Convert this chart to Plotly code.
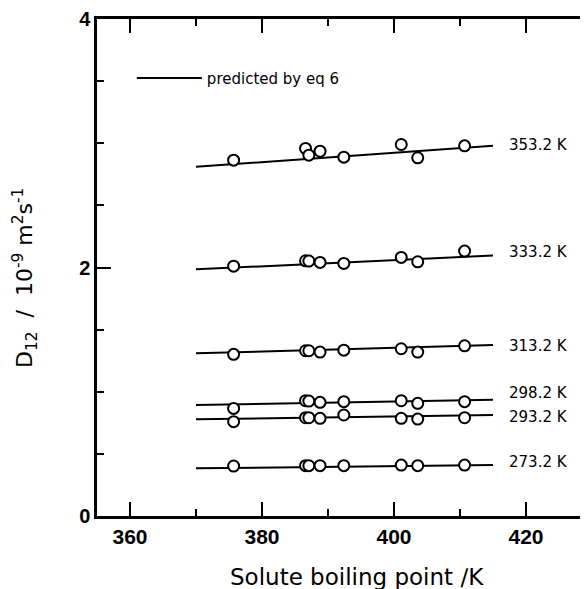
import plotly.graph_objects as go

# Solute boiling points (K)
boiling_points = [375.7, 386.6, 387.1, 388.8, 392.4, 401.1, 403.6, 410.7]

# Measured D12 (10^-9 m^2 s^-1) at each temperature
temps = ["353.2 K", "333.2 K", "313.2 K", "298.2 K", "293.2 K", "273.2 K"]
d_353 = [2.864, 2.958, 2.904, 2.936, 2.888, 2.990, 2.883, 2.979]
d_333 = [2.011, 2.054, 2.052, 2.041, 2.033, 2.081, 2.046, 2.132]
d_313 = [1.301, 1.330, 1.330, 1.319, 1.335, 1.346, 1.319, 1.370]
d_298 = [0.866, 0.928, 0.925, 0.915, 0.920, 0.928, 0.907, 0.920]
d_293 = [0.759, 0.791, 0.791, 0.786, 0.813, 0.786, 0.780, 0.791]
d_273 = [0.402, 0.405, 0.405, 0.405, 0.405, 0.410, 0.405, 0.410]
measured = [d_353, d_333, d_313, d_298, d_293, d_273]

# Predicted lines (eq 6): endpoints
pred_x = [370, 415]
pred_353 = [2.81, 2.98]
pred_333 = [1.985, 2.097]
pred_313 = [1.309, 1.376]
pred_298 = [0.893, 0.935]
pred_293 = [0.778, 0.813]
pred_273 = [0.384, 0.410]
predicted = [pred_353, pred_333, pred_313, pred_298, pred_293, pred_273]

# Label positions for temperature labels
label_x = 417.2
label_y = [2.985, 2.124, 1.37, 0.987, 0.799, 0.437]

x_tickvals = [360, 380, 400, 420]
x_ticktext = ["360", "380", "400", "420"]
y_tickvals = [0, 2, 4]
y_ticktext = ["0", "2", "4"]
y_unlabeled_major = [1, 3]
y_all_major = [0, 1, 2, 3, 4]

x_title = "Solute boiling point ∕K"
y_title = "D<sub>12</sub>\u00a0\u00a0∕\u00a0\u00a010<sup>-9</sup>\u00a0m<sup>2</sup>s<sup>-1</sup>"

fig = go.Figure()

for i, pred in enumerate(predicted):
    fig.add_trace(go.Scatter(
        x=pred_x, y=pred, mode="lines",
        line=dict(color="black", width=2),
        name="predicted by eq 6", showlegend=(i == 0),
    ))
for meas in measured:
    fig.add_trace(go.Scatter(
        x=boiling_points, y=meas, mode="markers",
        marker=dict(symbol="circle", size=11, color="white",
                    line=dict(color="black", width=2)),
        showlegend=False,
    ))

for t, ly in zip(temps, label_y):
    fig.add_annotation(x=label_x, y=ly, text=t, showarrow=False,
                       xanchor="left", yanchor="middle",
                       font=dict(family="DejaVu Sans", size=15, color="black"))

# Axis titles as annotations (positioned like the reference)
fig.add_annotation(xref="paper", yref="paper", x=0.5295, y=-0.1227,
                   text=x_title, showarrow=False, xanchor="center", yanchor="middle",
                   font=dict(family="DejaVu Sans", size=23, color="black"))
fig.add_annotation(xref="paper", yref="paper", x=-0.1466, y=0.479,
                   text=y_title, showarrow=False, textangle=-90,
                   xanchor="center", yanchor="middle",
                   font=dict(family="DejaVu Sans", size=22, color="black"))

x_tick_font = dict(family="Liberation Sans", size=21, color="black", weight="bold")
y_tick_font = dict(family="Liberation Sans", size=20, color="black", weight="bold")
tick_style = dict(ticks="inside", tickwidth=2, tickcolor="black")

fig.update_layout(
    width=580, height=581,
    margin=dict(l=89, r=0, t=11, b=73),
    plot_bgcolor="white", paper_bgcolor="white",
    showlegend=True,
    legend=dict(x=0.071, y=0.881, xanchor="left", yanchor="middle",
                bgcolor="rgba(0,0,0,0)", itemwidth=65,
                font=dict(family="DejaVu Sans", size=15, color="black")),
    xaxis=dict(
        range=[355, 429.4], showgrid=False, zeroline=False,
        showline=True, linecolor="black", linewidth=2.5, mirror="ticks",
        ticklen=14, **tick_style, ticklabeloverflow="allow",
        tickvals=x_tickvals, ticktext=x_ticktext, tickfont=x_tick_font,
        minor=dict(ticklen=7, dtick=10, tick0=360, **tick_style),
    ),
    yaxis=dict(
        range=[0, 4], showgrid=False, zeroline=False,
        showline=True, linecolor="black", linewidth=2.5,
        ticklen=14, **tick_style, ticklabeloverflow="allow",
        tickvals=y_tickvals, ticktext=y_ticktext, tickfont=y_tick_font,
        minor=dict(ticklen=7, dtick=0.5, tick0=0, **tick_style),
    ),
    yaxis2=dict(
        range=[0, 4], overlaying="y", side="right", anchor="x",
        showgrid=False, zeroline=False, showline=False,
        ticklen=14, **tick_style,
        tickvals=y_all_major, showticklabels=False,
        minor=dict(ticklen=7, dtick=0.5, tick0=0, **tick_style),
    ),
    yaxis3=dict(
        range=[0, 4], overlaying="y", side="left", anchor="x",
        showgrid=False, zeroline=False, showline=False,
        ticklen=14, **tick_style,
        tickvals=y_unlabeled_major, showticklabels=False,
    ),
)

fig.write_html("out.html")
